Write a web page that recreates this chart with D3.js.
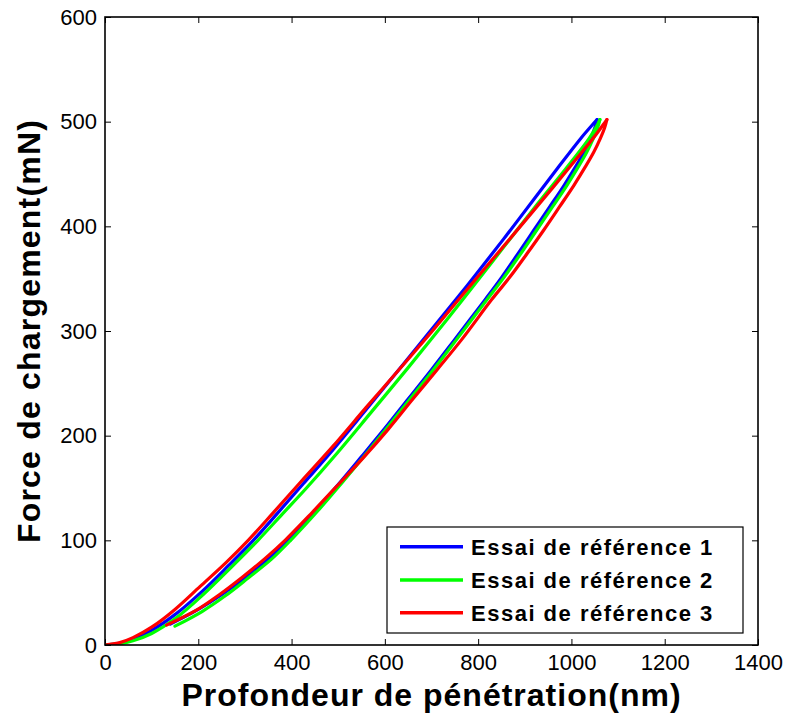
<!DOCTYPE html>
<html>
<head>
<meta charset="utf-8">
<script src="https://cdn.jsdelivr.net/npm/d3@7"></script>
<style>
  html, body { margin: 0; padding: 0; background: #ffffff; }
  svg { display: block; font-family: "Liberation Sans", Arial, Helvetica, sans-serif; }
</style>
</head>
<body>
<svg id="chart" width="788" height="716"></svg>
<script>
// ---------- data ----------
const seriesNames = ["Essai de référence 1", "Essai de référence 2", "Essai de référence 3"];
const seriesColors = ["#0000ff", "#00ff00", "#ff0000"];

const xTicks = [0, 200, 400, 600, 800, 1000, 1200, 1400];
const yTicks = [0, 100, 200, 300, 400, 500, 600];

// [depth nm, force mN] — loading branches
const load1 = [[0,0],[30,1.5],[60,6],[100,14],[150,29],[210,52],[265,76],[318,100],[370,126],[425,154],[482,183],[560,225],[640,268.5],[700,301.5],[754,331],[804,359],[860,391],[918,425],[971,456],[1020,484],[1045,497],[1055,502]];
const load2 = [[0,0],[30,1],[60,4],[100,11],[150,25],[210,48],[270,74],[328,100],[380,125],[430,149],[497,183],[570,222],[650,265],[710,298],[765,329],[830,366],[930,423],[988,455],[1038,484],[1057,498],[1061,502]];
const load3 = [[0,0],[30,2],[60,7],[100,17],[150,34],[204,56],[260,79],[307,100],[360,126],[420,156],[489,190],[560,227],[640,268],[700,299],[760,331],[830,368],[900,405],[960,437],[1010,464],[1050,486],[1068,497],[1076,502]];

// unloading branches (from peak down)
const unload1 = [[1055,502],[1050,494],[1041,484],[1027,471],[1009,457],[984,439],[954,419],[919,396],[884,373],[850,351],[815,330],[750,292],[700,263],[650,235],[600,207],[550,180],[505,156],[450,128],[392,100],[350,82],[300,64],[250,48],[200,34],[140,20]];
const unload2 = [[1061,502],[1056,494],[1047,484],[1033,471],[1015,457],[990,439],[960,419],[925,396],[890,373],[855,351],[819,330],[754,292],[704,263],[654,235],[604,207],[555,180],[510,156],[456,128],[398,100],[357,82],[307,64],[258,47],[208,32],[150,18]];
const unload3 = [[1076,502],[1071,494],[1062,484],[1048,471],[1030,457],[1005,439],[975,419],[940,396],[905,374],[868,351.5],[829,330],[765,292],[712,263],[660,235],[607,206],[554,179],[504,155],[445,127],[386,100],[344,83],[295,65],[245,48],[195,33],[132,19]];

const loads = [load1, load2, load3];
const unloads = [unload1, unload2, unload3];

// ---------- layout ----------
const svg = d3.select("#chart");
const L = 105, R = 758, T = 17, B = 645;
const FONT = '"Liberation Sans", Arial, Helvetica, sans-serif';

const x = d3.scaleLinear().domain([0, 1400]).range([L, R]);
const y = d3.scaleLinear().domain([0, 600]).range([B, T]);

svg.append("rect").attr("width", 788).attr("height", 716).attr("fill", "#ffffff");

svg.append("clipPath").attr("id", "clip")
  .append("rect").attr("x", L).attr("y", T).attr("width", R - L).attr("height", B - T);

// axes
const fontTick = 22;
const gx = svg.append("g").attr("transform", `translate(0,${B})`)
  .call(d3.axisBottom(x).tickValues(xTicks).tickSize(-6).tickPadding(9).tickFormat(d3.format("d")));
const gxTop = svg.append("g").attr("transform", `translate(0,${T})`)
  .call(d3.axisTop(x).tickValues(xTicks).tickSize(-6).tickFormat(""));
const gy = svg.append("g").attr("transform", `translate(${L},0)`)
  .call(d3.axisLeft(y).tickValues(yTicks).tickSize(-6).tickPadding(8).tickFormat(d3.format("d")));
const gyR = svg.append("g").attr("transform", `translate(${R},0)`)
  .call(d3.axisRight(y).tickValues(yTicks).tickSize(-6).tickFormat(""));

[gx, gxTop, gy, gyR].forEach(g => {
  g.select(".domain").remove();
  g.selectAll(".tick line").attr("stroke", "#000").attr("stroke-width", 1);
  g.selectAll(".tick text").attr("fill", "#000").style("font-size", fontTick + "px")
    .style("font-family", FONT);
});

// curves
const line = d3.line().x(d => x(d[0])).y(d => y(d[1])).curve(d3.curveCatmullRom.alpha(0.5));
const plot = svg.append("g").attr("clip-path", "url(#clip)");
for (let i = 0; i < 3; i++) {
  [loads[i], unloads[i]].forEach(arr => {
    plot.append("path").datum(arr).attr("d", line)
      .attr("fill", "none").attr("stroke", seriesColors[i]).attr("stroke-width", 3.2)
      .attr("stroke-linejoin", "round").attr("stroke-linecap", "round");
  });
}

// frame
svg.append("rect").attr("x", L).attr("y", T).attr("width", R - L).attr("height", B - T)
  .attr("fill", "none").attr("stroke", "#000").attr("stroke-width", 1.6);

// axis titles
svg.append("text").attr("x", (L + R) / 2).attr("y", 706).attr("text-anchor", "middle")
  .style("font-size", "32px").style("font-weight", "bold").style("letter-spacing", "1px")
  .style("font-family", FONT)
  .text("Profondeur de pénétration(nm)");
svg.append("text").attr("transform", `translate(40,${(T + B) / 2}) rotate(-90)`)
  .attr("text-anchor", "middle")
  .style("font-size", "32px").style("font-weight", "bold").style("letter-spacing", "1.2px")
  .style("font-family", FONT)
  .text("Force de chargement(mN)");

// legend
const lg = svg.append("g");
lg.append("rect").attr("x", 387).attr("y", 527).attr("width", 356).attr("height", 106)
  .attr("fill", "#fff").attr("stroke", "#000").attr("stroke-width", 1.2);
const rowY = [546.7, 580, 612.7];
seriesNames.forEach((name, i) => {
  lg.append("line").attr("x1", 400).attr("x2", 463).attr("y1", rowY[i]).attr("y2", rowY[i])
    .attr("stroke", seriesColors[i]).attr("stroke-width", 3.5);
  lg.append("text").attr("x", 471).attr("y", rowY[i] + 8)
    .style("font-size", "22px").style("font-weight", "bold").style("letter-spacing", "1.5px")
    .style("font-family", FONT)
    .text(name);
});
</script>
</body>
</html>
